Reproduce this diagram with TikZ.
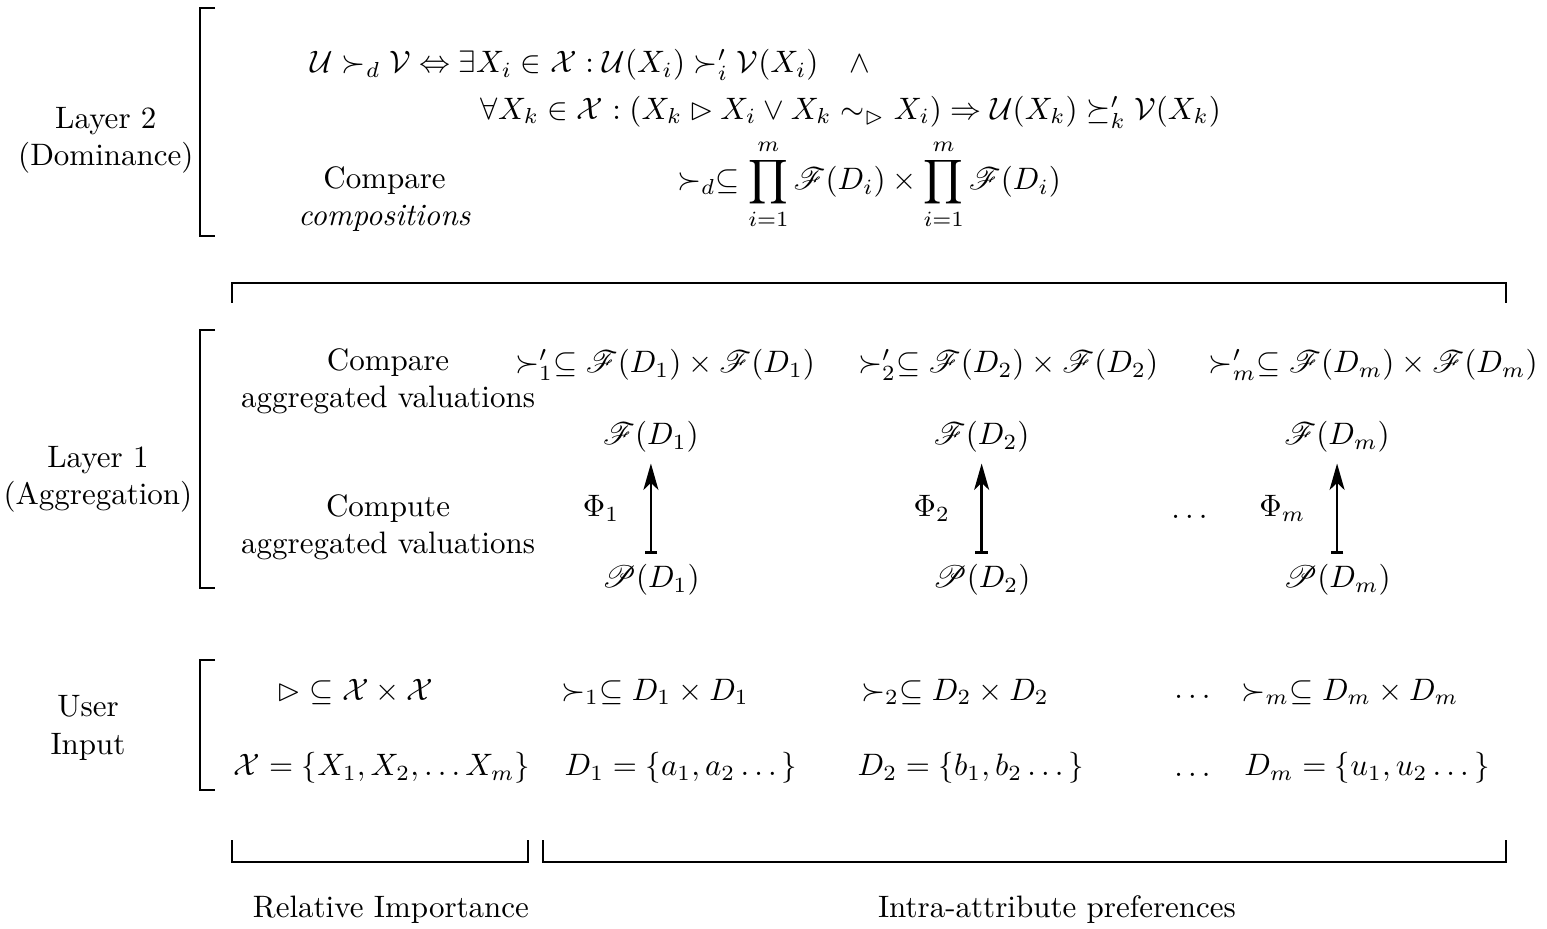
\documentclass[tikz,border=0pt]{standalone}
\usepackage{amsmath,amssymb}
\usepackage{mathrsfs}
\usepackage{tikz}
\usetikzlibrary{arrows.meta,positioning}
\tikzset{
  brk/.style={line width=0.9pt},
  lbl/.style={align=center},
  arrowmap/.style={{Bar[width=1.4mm]}-{Stealth[length=3mm,width=1.7mm,inset=0.8mm]},
                   line width=0.8pt},
}

\begin{document}
\begin{tikzpicture}
  \useasboundingbox(0,0)rectangle(17.54,-10.53);
  % Layer 2
  \node[lbl](l2)at(1.20,-1.587){Layer 2\\(Dominance)};
  \draw[brk](2.438,-0.091)--(2.268,-0.091)--(2.268,-2.676)--(2.438,-2.676);
  \node[anchor=west](dom1)at(3.401,-0.737){$\mathcal{U}\succ_d\mathcal{V}\Leftrightarrow
    \exists X_i\in\mathcal{X}:\mathcal{U}(X_i)\succ'_i\mathcal{V}(X_i)\quad\wedge$};
  \node[anchor=west](dom2)at(5.329,-1.270){$\forall X_k\in\mathcal{X}:(X_k\rhd X_i\vee
    X_k\sim_{\rhd}X_i)\Rightarrow\mathcal{U}(X_k)\succeq'_k\mathcal{V}(X_k)$};
  \node[lbl](cmpc)at(4.36,-2.256){Compare\\\textit{compositions}};
  \node(domrel)at(9.853,-2.086){$\displaystyle\succ_d\subseteq\prod_{i=1}^{m}\mathscr{F}(D_i)
    \times\prod_{i=1}^{m}\mathscr{F}(D_i)$};
  % Span over layer 1
  \draw[brk](2.630,-3.435)--(2.630,-3.209)--(17.075,-3.209)--(17.075,-3.435);
  % Layer 1
  \node[lbl](l1)at(1.11,-5.437){Layer 1\\(Aggregation)};
  \draw[brk](2.438,-3.741)--(2.268,-3.741)--(2.268,-6.667)--(2.438,-6.667);
  \node[lbl](cmpa)at(4.40,-4.320){Compare\\aggregated valuations};
  \node[lbl](cmpu)at(4.40,-5.975){Compute\\aggregated valuations};
  \node(r1)at(7.54,-4.138){$\succ'_1\subseteq\mathscr{F}(D_1)\times\mathscr{F}(D_1)$};
  \node(r2)at(11.43,-4.138){$\succ'_2\subseteq\mathscr{F}(D_2)\times\mathscr{F}(D_2)$};
  \node(rm)at(15.57,-4.138){$\succ'_m\subseteq\mathscr{F}(D_m)\times\mathscr{F}(D_m)$};
  \node(f1)at(7.38,-4.955){$\mathscr{F}(D_1)$};
  \node(f2)at(11.13,-4.955){$\mathscr{F}(D_2)$};
  \node(fm)at(15.16,-4.955){$\mathscr{F}(D_m)$};
  \node(p1)at(7.38,-6.576){$\mathscr{P}(D_1)$};
  \node(p2)at(11.13,-6.576){$\mathscr{P}(D_2)$};
  \node(pm)at(15.16,-6.576){$\mathscr{P}(D_m)$};
  \draw[arrowmap](p1)--(f1)node[midway,left=6.5pt](phi1){$\Phi_1$};
  \draw[arrowmap](p2)--(f2)node[midway,left=6.5pt](phi2){$\Phi_2$};
  \draw[arrowmap](pm)--(fm)node[midway,left=6.5pt](phim){$\Phi_m$};
  \node(dl1)at(13.515,-5.86){$\dots$};
  % User input
  \node[lbl](ui)at(0.998,-8.254){User\\Input};
  \draw[brk](2.438,-7.483)--(2.268,-7.483)--(2.268,-8.957)--(2.438,-8.957);
  \node(imp)at(4.025,-7.846){$\rhd\subseteq\mathcal{X}\times\mathcal{X}$};
  \node(s1)at(7.426,-7.846){$\succ_1\subseteq D_1\times D_1$};
  \node(s2)at(10.828,-7.846){$\succ_2\subseteq D_2\times D_2$};
  \node(du1)at(13.549,-7.90){$\dots$};
  \node(sm)at(15.306,-7.846){$\succ_m\subseteq D_m\times D_m$};
  \node(attr)at(4.331,-8.707){$\mathcal{X}=\{X_1,X_2,\dots X_m\}$};
  \node(d1)at(7.721,-8.707){$D_1=\{a_1,a_2\dots\}$};
  \node(d2)at(11.009,-8.707){$D_2=\{b_1,b_2\dots\}$};
  \node(du2)at(13.549,-8.78){$\dots$};
  \node(dm)at(15.499,-8.707){$D_m=\{u_1,u_2\dots\}$};
  % Bottom spans
  \draw[brk](2.630,-9.524)--(2.630,-9.773)--(5.986,-9.773)--(5.986,-9.524);
  \draw[brk](6.156,-9.524)--(6.156,-9.773)--(17.075,-9.773)--(17.075,-9.524);
  \node(relimp)at(4.433,-10.317){Relative Importance};
  \node(intra)at(11.984,-10.317){Intra-attribute preferences};
\end{tikzpicture}
\end{document}
